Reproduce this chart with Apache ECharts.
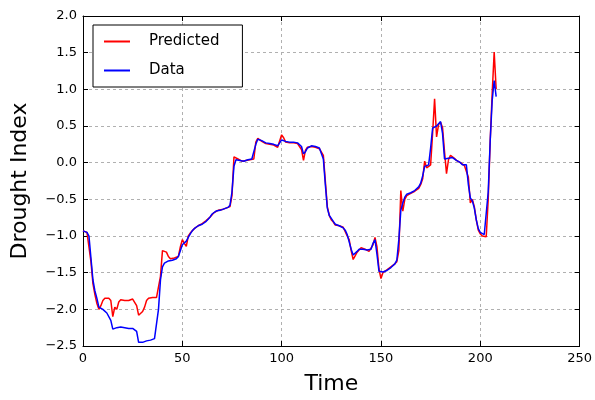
<!DOCTYPE html>
<html><head><meta charset="utf-8">
<script src="https://cdn.jsdelivr.net/npm/echarts@6/dist/echarts.min.js"></script>
<style>html,body{margin:0;padding:0;background:#fff}#c{width:595px;height:400px}</style>
</head><body><div id="c"></div>
<script>
const xTicks = [0, 50, 100, 150, 200, 250];
const yTicks = [-2.5, -2.0, -1.5, -1.0, -0.5, 0.0, 0.5, 1.0, 1.5, 2.0];
const seriesNames = ['Predicted', 'Data'];
const predicted = [
-0.93,-0.93,-0.95,-0.97,-1.35,-1.65,-1.80,-1.92,-2.00,-1.95,
-1.88,-1.85,-1.84,-1.85,-1.88,-2.10,-1.97,-2.00,-1.90,-1.87,
-1.87,-1.88,-1.88,-1.88,-1.87,-1.86,-1.84,-1.95,-2.08,-2.08,
-2.03,-1.97,-1.88,-1.85,-1.84,-1.84,-1.84,-1.84,-1.84,-1.55,
-1.20,-1.18,-1.22,-1.28,-1.31,-1.31,-1.30,-1.30,-1.28,-1.15,
-1.05,-1.10,-1.14,-1.00,-0.96,-0.93,-0.90,-0.88,-0.86,-0.85,
-0.83,-0.82,-0.79,-0.77,-0.74,-0.71,-0.68,-0.66,-0.65,-0.65,
-0.64,-0.63,-0.62,-0.61,-0.60,-0.45,0.08,0.06,0.05,0.03,
0.02,0.02,0.03,0.04,0.04,0.04,0.05,0.28,0.33,0.32,
0.29,0.27,0.26,0.25,0.25,0.24,0.24,0.22,0.21,0.19,
0.38,0.34,0.28,0.27,0.27,0.27,0.27,0.26,0.26,0.25,
0.18,0.03,0.17,0.21,0.21,0.22,0.22,0.21,0.20,0.19,
0.17,0.10,-0.25,-0.60,-0.72,-0.78,-0.81,-0.85,-0.86,-0.86,
-0.87,-0.88,-0.90,-1.00,-1.05,-1.20,-1.32,-1.27,-1.22,-1.19,
-1.16,-1.16,-1.18,-1.20,-1.21,-1.19,-1.12,-1.02,-1.15,-1.45,
-1.58,-1.50,-1.48,-1.46,-1.44,-1.42,-1.40,-1.38,-1.35,-1.20,
-0.38,-0.66,-0.50,-0.45,-0.43,-0.42,-0.41,-0.39,-0.38,-0.35,
-0.30,-0.22,0.02,-0.07,-0.05,-0.03,0.40,0.87,0.35,0.52,
0.55,0.48,0.15,-0.15,0.04,0.10,0.08,0.06,0.03,0.02,
0.00,-0.02,-0.04,-0.05,-0.20,-0.55,-0.50,-0.60,-0.78,-0.92,
-0.97,-1.00,-1.00,-1.01,-0.50,0.30,0.95,1.51,1.00
];
const data = [
-0.93,-0.95,-0.95,-1.00,-1.30,-1.60,-1.75,-1.85,-1.97,-1.98,
-2.00,-2.02,-2.05,-2.07,-2.15,-2.27,-2.26,-2.25,-2.25,-2.24,
-2.25,-2.25,-2.26,-2.26,-2.25,-2.26,-2.24,-2.30,-2.45,-2.47,
-2.45,-2.44,-2.43,-2.42,-2.42,-2.41,-2.40,-2.39,-2.00,-1.60,
-1.42,-1.37,-1.35,-1.34,-1.33,-1.33,-1.32,-1.31,-1.28,-1.20,
-1.12,-1.10,-1.07,-1.02,-0.97,-0.93,-0.90,-0.88,-0.86,-0.85,
-0.84,-0.82,-0.80,-0.77,-0.74,-0.70,-0.68,-0.66,-0.65,-0.65,
-0.64,-0.63,-0.62,-0.61,-0.58,-0.40,-0.05,0.04,0.04,0.03,
0.02,0.02,0.03,0.04,0.04,0.05,0.06,0.25,0.32,0.33,
0.30,0.28,0.27,0.26,0.26,0.25,0.25,0.24,0.23,0.22,
0.31,0.33,0.29,0.28,0.28,0.28,0.28,0.27,0.27,0.26,
0.22,0.12,0.15,0.20,0.22,0.23,0.23,0.22,0.21,0.20,
0.19,0.05,-0.30,-0.62,-0.72,-0.76,-0.80,-0.84,-0.85,-0.86,
-0.87,-0.89,-0.92,-0.98,-1.08,-1.18,-1.26,-1.25,-1.21,-1.18,
-1.17,-1.18,-1.18,-1.19,-1.20,-1.18,-1.10,-1.05,-1.25,-1.48,
-1.50,-1.49,-1.48,-1.47,-1.45,-1.43,-1.41,-1.38,-1.33,-1.05,
-0.65,-0.55,-0.47,-0.43,-0.42,-0.41,-0.40,-0.38,-0.37,-0.33,
-0.28,-0.18,-0.05,-0.05,-0.03,0.20,0.47,0.49,0.50,0.53,
0.56,0.40,0.05,0.05,0.06,0.08,0.07,0.05,0.03,0.02,
0.00,-0.03,-0.05,-0.03,-0.30,-0.48,-0.52,-0.62,-0.78,-0.90,
-0.95,-0.97,-0.98,-0.97,-0.40,0.30,0.85,1.12,0.90
];
const FONT = 'DejaVu Sans';
const fmtY = v => (v < 0 ? '\u2212' : '') + Math.abs(v).toFixed(1);
const chart = echarts.init(document.getElementById('c'), null, {renderer: 'canvas'});
const xMin = xTicks[0], xMax = xTicks[xTicks.length-1], xInt = xTicks[1]-xTicks[0];
const yMin = yTicks[0], yMax = yTicks[yTicks.length-1], yInt = yTicks[1]-yTicks[0];
const tickIn = {show: true, inside: true, length: 5, lineStyle: {color: '#000', width: 1}};
const gridLine = {show: true, lineStyle: {color: '#b0b0b0', type: [3, 3], width: 1}};
chart.setOption({
  animation: false,
  backgroundColor: '#fff',
  grid: {left: 83, right: 12, top: 16, bottom: 52, containLabel: false},
  legend: {
    data: seriesNames, orient: 'vertical', left: 93, top: 25,
    backgroundColor: '#fff', borderColor: '#000', borderWidth: 1, borderRadius: 0,
    padding: [9, 23, 9, 11], itemGap: 14, itemWidth: 26, itemHeight: 2, icon: 'rect',
    textStyle: {fontFamily: FONT, fontSize: 15, color: '#000', padding: [0, 0, 0, 14]}
  },
  xAxis: [{
    type: 'value', min: xMin, max: xMax, interval: xInt, position: 'bottom',
    name: 'Time', nameLocation: 'middle', nameGap: 27,
    nameTextStyle: {fontFamily: FONT, fontSize: 22, color: '#000'},
    axisLine: {show: true, onZero: false, lineStyle: {color: '#000', width: 1}},
    axisTick: tickIn, splitLine: gridLine,
    axisLabel: {fontFamily: FONT, fontSize: 13, color: '#000', margin: 6}
  }, {
    type: 'value', min: xMin, max: xMax, interval: xInt, position: 'top',
    axisLine: {show: true, onZero: false, lineStyle: {color: '#000', width: 1}},
    axisTick: tickIn, splitLine: {show: false}, axisLabel: {show: false}
  }],
  yAxis: [{
    type: 'value', min: yMin, max: yMax, interval: yInt, position: 'left',
    name: 'Drought Index', nameLocation: 'middle', nameGap: 52, nameRotate: 90,
    nameTextStyle: {fontFamily: FONT, fontSize: 22, color: '#000'},
    axisLine: {show: true, onZero: false, lineStyle: {color: '#000', width: 1}},
    axisTick: tickIn, splitLine: gridLine,
    axisLabel: {fontFamily: FONT, fontSize: 13, color: '#000', margin: 6, formatter: fmtY}
  }, {
    type: 'value', min: yMin, max: yMax, interval: yInt, position: 'right',
    axisLine: {show: true, onZero: false, lineStyle: {color: '#000', width: 1}},
    axisTick: tickIn, splitLine: {show: false}, axisLabel: {show: false}
  }],
  series: [
    {name: seriesNames[0], type: 'line', showSymbol: false, symbol: 'none',
     data: predicted.map((v, i) => [i, v]), lineStyle: {color: '#ff0000', width: 1.5},
     itemStyle: {color: '#ff0000'}, z: 2},
    {name: seriesNames[1], type: 'line', showSymbol: false, symbol: 'none',
     data: data.map((v, i) => [i, v]), lineStyle: {color: '#0000ff', width: 1.5},
     itemStyle: {color: '#0000ff'}, z: 3}
  ]
});
</script></body></html>
